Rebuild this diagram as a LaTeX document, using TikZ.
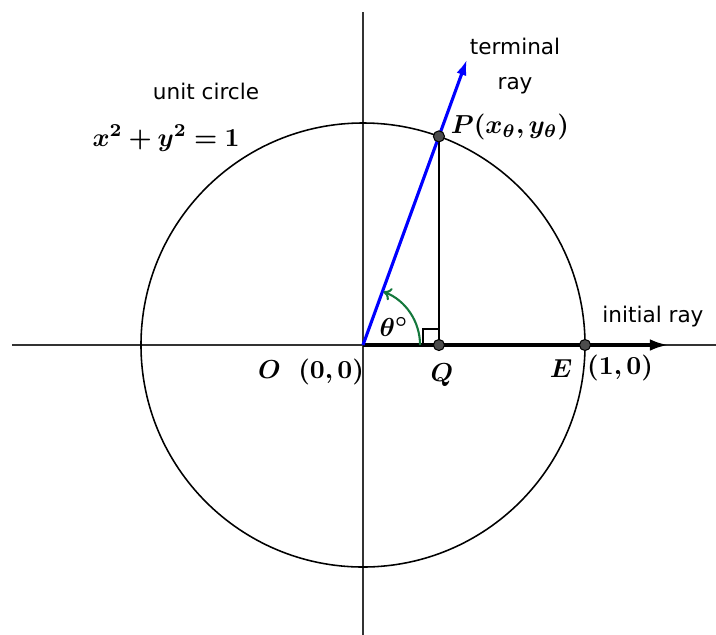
\documentclass[tikz,border=0pt]{standalone}
\usepackage{fontspec}
\setsansfont{DejaVu Sans}
\usepackage{bm}
\usetikzlibrary{arrows.meta}
\definecolor{arcgreen}{RGB}{20,120,60}
\tikzset{
  txt/.style={font=\sffamily\fontsize{8.3}{13.4}\selectfont, inner sep=0pt, align=center},
  lbl/.style={font=\fontsize{10.2}{12}\selectfont, inner sep=0pt},
  pt/.style={fill=black!70, draw=black, line width=0.4pt}
}
\begin{document}
\begin{tikzpicture}[scale=3, line width=0.6pt]
\useasboundingbox (-1.635,-1.306) rectangle (1.590,1.554);
% points
\coordinate (O) at (0,0);
\coordinate (P) at (70:1);
\coordinate (Q) at ({cos(70)},0);
\coordinate (E) at (1,0);
\coordinate (T) at (70:1.368);
\coordinate (I) at (1.374,0);
\coordinate (xl) at (-1.581,0);
\coordinate (xr) at (1.59,0);
\coordinate (yb) at (0,-1.306);
\coordinate (yt) at (0,1.5);
% axes and circle
\draw[black!80] (xl) -- (xr);
\draw[black!80] (yb) -- (yt);
\draw (O) circle (1);
\draw (P) -- (Q);
\draw (Q) ++(-0.072,0) -- ++(0,0.072) -- ++(0.072,0);
% rays
\draw[line width=1.2pt, -{Latex[length=7pt,width=4.5pt]}] (O) -- (I);
\draw[blue, line width=1.2pt, -{Latex[length=6pt,width=4pt]}] (O) -- (T);
\draw[arcgreen, line width=0.8pt, -{To[length=3pt,width=5pt]}] (0.257,0) arc (0:69:0.257);
\filldraw[pt] (P) circle (0.025);
\filldraw[pt] (Q) circle (0.025);
\filldraw[pt] (E) circle (0.025);
% labels
\node[txt] (term) at (0.685,1.257) {terminal\\ray};
\node[txt] (init) at (1.306,0.126) {initial ray};
\node[txt] (uc) at (-0.707,1.140) {unit circle};
\node[lbl] (eq) at (-0.887,0.932) {$\bm{x^2+y^2=1}$};
\node[lbl] (lP) at (0.662,0.982) {$\bm{P(x_\theta,y_\theta)}$};
\node[lbl] (lO) at (-0.234,-0.122) {$\bm{O\ \ (0,0)}$};
\node[lbl] (lQ) at (0.356,-0.135) {$\bm{Q}$};
\node[lbl] (lE) at (0.892,-0.104) {$\bm{E}$};
\node[lbl] (lE1) at (1.158,-0.104) {$\bm{(1,0)}$};
\node[lbl] (th) at (0.140,0.081) {$\bm{\theta^\circ}$};
\end{tikzpicture}
\end{document}
